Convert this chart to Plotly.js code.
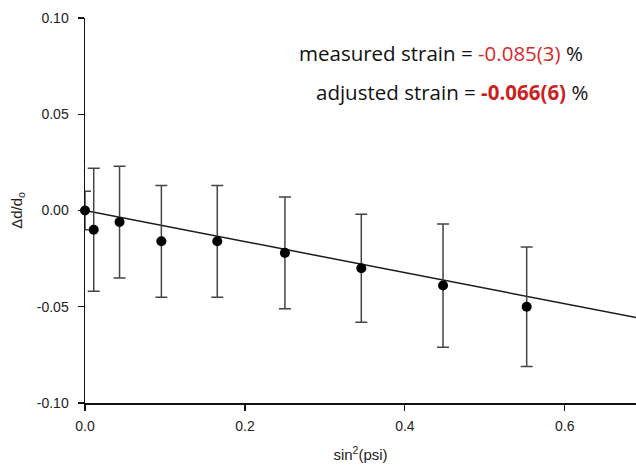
<!DOCTYPE html>
<html>
<head>
<meta charset="utf-8">
<script src="https://cdn.plot.ly/plotly-3.0.1.min.js"></script>
<style>html,body{margin:0;padding:0;background:#fff;overflow:hidden}#chart{width:636px;height:468px}</style>
</head>
<body>
<div id="chart"></div>
<script>
// sin^2(psi) for psi = 0..48 deg
const sin2psi = [0, 0.0109, 0.0432, 0.0955, 0.1654, 0.25, 0.3455, 0.4477, 0.5523];
const strain = [0.000, -0.010, -0.006, -0.016, -0.016, -0.022, -0.030, -0.039, -0.050];
const strainErr = [0.010, 0.032, 0.029, 0.029, 0.029, 0.029, 0.028, 0.032, 0.031];
const fitX = [0, 0.70];
const fitY = [0.0, -0.0565];
const xTickVals = [0, 0.2, 0.4, 0.6];
const xTickText = ["0.0", "0.2", "0.4", "0.6"];
const yTickVals = [-0.10, -0.05, 0.00, 0.05, 0.10];
const yTickText = ["-0.10", "-0.05", "0.00", "0.05", "0.10"];
const annoLines = [
  'measured strain = <span style="color:#d42a2a">-0.085(3)</span> %',
  'adjusted strain = <b><span style="color:#cc1f1f">-0.066(6)</span></b> %'
];

const traces = [
  {x: fitX, y: fitY, mode: 'lines', line: {color: '#1a1a1a', width: 1.5}, hoverinfo: 'skip', cliponaxis: true},
  {x: sin2psi, y: strain, mode: 'markers', type: 'scatter',
   marker: {color: '#000', size: 10},
   error_y: {type: 'data', array: strainErr, visible: true, color: '#444', thickness: 1.5, width: 6},
   cliponaxis: false}
];

const fontTick = {family: 'Liberation Sans, Arial, sans-serif', size: 14, color: '#222'};
const layout = {
  width: 636, height: 468,
  margin: {l: 85, r: 0, t: 18, b: 65},
  paper_bgcolor: '#fff', plot_bgcolor: '#fff',
  showlegend: false,
  xaxis: {range: [0, 0.689], tickvals: xTickVals, ticktext: xTickText,
    showline: true, linecolor: '#111', linewidth: 1.5, ticks: 'outside', ticklen: 6, tickwidth: 1.2, tickcolor: '#111',
    showgrid: false, zeroline: false, tickfont: fontTick, ticklabelstandoff: 4,
    title: {text: 'sin<sup>2</sup>(psi)', font: {family: 'Liberation Sans, Arial, sans-serif', size: 15, color: '#222'}, standoff: 16}},
  yaxis: {range: [-0.10, 0.10], tickvals: yTickVals, ticktext: yTickText,
    showline: true, linecolor: '#111', linewidth: 1.5, ticks: 'outside', ticklen: 6, tickwidth: 1.2, tickcolor: '#111',
    showgrid: false, zeroline: false, tickfont: fontTick, ticklabelstandoff: 6,
    title: {text: 'Δd/d<sub>o</sub>', font: {family: 'Liberation Sans, Arial, sans-serif', size: 15, color: '#222'}, standoff: 10}},
  annotations: [
    {text: annoLines[0], xref: 'paper', yref: 'paper', x: 0.907, y: 0.909, xanchor: 'right', yanchor: 'middle', showarrow: false,
     font: {family: 'Open Sans, sans-serif', size: 20.5, color: '#111'}},
    {text: annoLines[1], xref: 'paper', yref: 'paper', x: 0.917, y: 0.808, xanchor: 'right', yanchor: 'middle', showarrow: false,
     font: {family: 'Open Sans, sans-serif', size: 20.5, color: '#111'}}
  ]
};
Plotly.newPlot('chart', traces, layout, {staticPlot: true, displayModeBar: false});
</script>
</body>
</html>
